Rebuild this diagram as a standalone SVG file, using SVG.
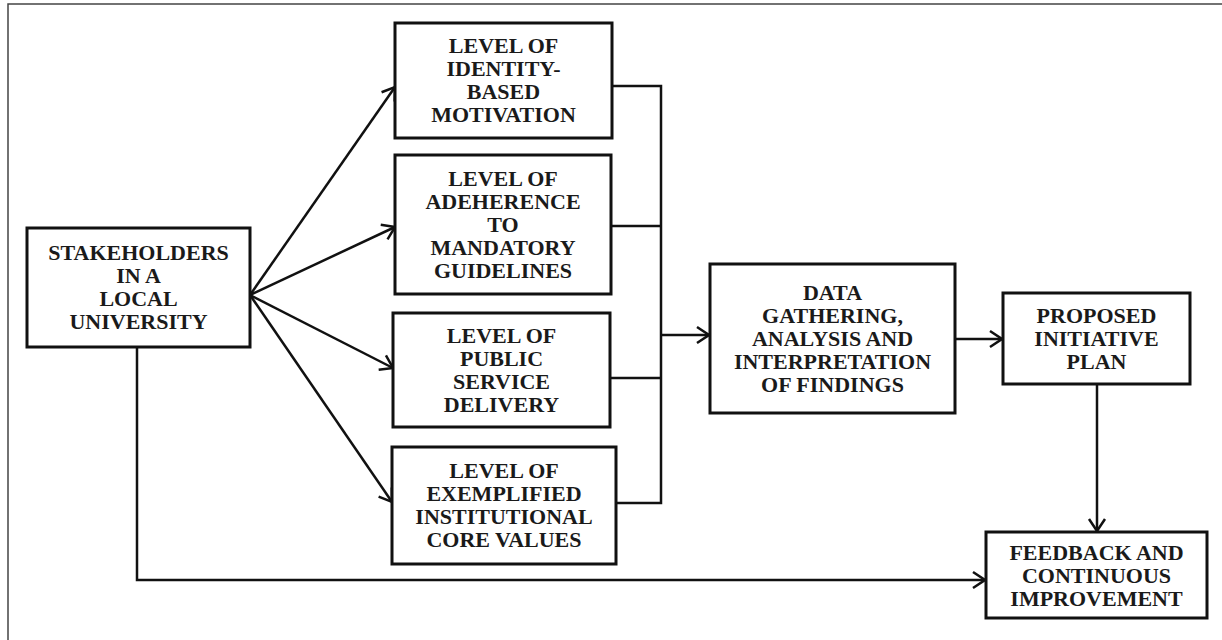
<svg xmlns="http://www.w3.org/2000/svg" width="1222" height="640" viewBox="0 0 1222 640">
<style>
.box{fill:#fff;stroke:#111;stroke-width:3}
.t{font-family:"Liberation Serif","Times New Roman",serif;font-weight:bold;font-size:22px;fill:#1a1a1a;text-anchor:middle}
.c{fill:none;stroke:#111;stroke-width:2.5}
.a{marker-end:url(#arr)}
</style>
<defs>
<marker id="arr" viewBox="0 0 16 20" refX="14" refY="10" markerWidth="16" markerHeight="20" markerUnits="userSpaceOnUse" orient="auto">
<path d="M2,2 L14,10 L2,18" fill="none" stroke="#111" stroke-width="2.5"/>
</marker>
</defs>
<rect x="8" y="4" width="1240" height="660" fill="#fff" stroke="#444" stroke-width="1.5"/>
<g id="connectors">
<line class="c a" x1="250" y1="295" x2="395" y2="87"/>
<line class="c a" x1="250" y1="295" x2="395" y2="227"/>
<line class="c a" x1="250" y1="295" x2="393" y2="368"/>
<line class="c a" x1="250" y1="295" x2="392" y2="502"/>
<polyline class="c" points="612,86 661,86 661,503 616,503"/>
<line class="c" x1="611" y1="226" x2="661" y2="226"/>
<line class="c" x1="610" y1="378" x2="661" y2="378"/>
<line class="c a" x1="661" y1="335" x2="709" y2="335"/>
<line class="c a" x1="955" y1="339" x2="1002" y2="339"/>
<line class="c a" x1="1097" y1="384" x2="1097" y2="531"/>
<polyline class="c a" points="137,347 137,580 985,580"/>
</g>
<g id="stakeholders">
<rect class="box" x="27" y="228" width="223" height="119"/>
<text class="t" x="138.5" y="260">STAKEHOLDERS</text>
<text class="t" x="138.5" y="283">IN A</text>
<text class="t" x="138.5" y="306">LOCAL</text>
<text class="t" x="138.5" y="329">UNIVERSITY</text>
</g>
<g id="identity">
<rect class="box" x="395" y="23" width="217" height="115"/>
<text class="t" x="503.5" y="53">LEVEL OF</text>
<text class="t" x="503.5" y="76">IDENTITY-</text>
<text class="t" x="503.5" y="99">BASED</text>
<text class="t" x="503.5" y="122">MOTIVATION</text>
</g>
<g id="adherence">
<rect class="box" x="395" y="155" width="216" height="139"/>
<text class="t" x="503" y="185.5">LEVEL OF</text>
<text class="t" x="503" y="208.5">ADEHERENCE</text>
<text class="t" x="503" y="231.5">TO</text>
<text class="t" x="503" y="254.5">MANDATORY</text>
<text class="t" x="503" y="277.5">GUIDELINES</text>
</g>
<g id="public">
<rect class="box" x="393" y="313" width="217" height="114"/>
<text class="t" x="501.5" y="343">LEVEL OF</text>
<text class="t" x="501.5" y="366">PUBLIC</text>
<text class="t" x="501.5" y="389">SERVICE</text>
<text class="t" x="501.5" y="412">DELIVERY</text>
</g>
<g id="values">
<rect class="box" x="392" y="447" width="224" height="117"/>
<text class="t" x="504" y="478">LEVEL OF</text>
<text class="t" x="504" y="501">EXEMPLIFIED</text>
<text class="t" x="504" y="524">INSTITUTIONAL</text>
<text class="t" x="504" y="547">CORE VALUES</text>
</g>
<g id="data">
<rect class="box" x="710" y="264" width="245" height="149"/>
<text class="t" x="832.5" y="299.5">DATA</text>
<text class="t" x="832.5" y="322.5">GATHERING,</text>
<text class="t" x="832.5" y="345.5">ANALYSIS AND</text>
<text class="t" x="832.5" y="368.5">INTERPRETATION</text>
<text class="t" x="832.5" y="391.5">OF FINDINGS</text>
</g>
<g id="proposed">
<rect class="box" x="1003" y="293" width="187" height="91"/>
<text class="t" x="1096.5" y="323">PROPOSED</text>
<text class="t" x="1096.5" y="346">INITIATIVE</text>
<text class="t" x="1096.5" y="369">PLAN</text>
</g>
<g id="feedback">
<rect class="box" x="986" y="532" width="221" height="86"/>
<text class="t" x="1096.5" y="559.5">FEEDBACK AND</text>
<text class="t" x="1096.5" y="582.5">CONTINUOUS</text>
<text class="t" x="1096.5" y="605.5">IMPROVEMENT</text>
</g>
</svg>
